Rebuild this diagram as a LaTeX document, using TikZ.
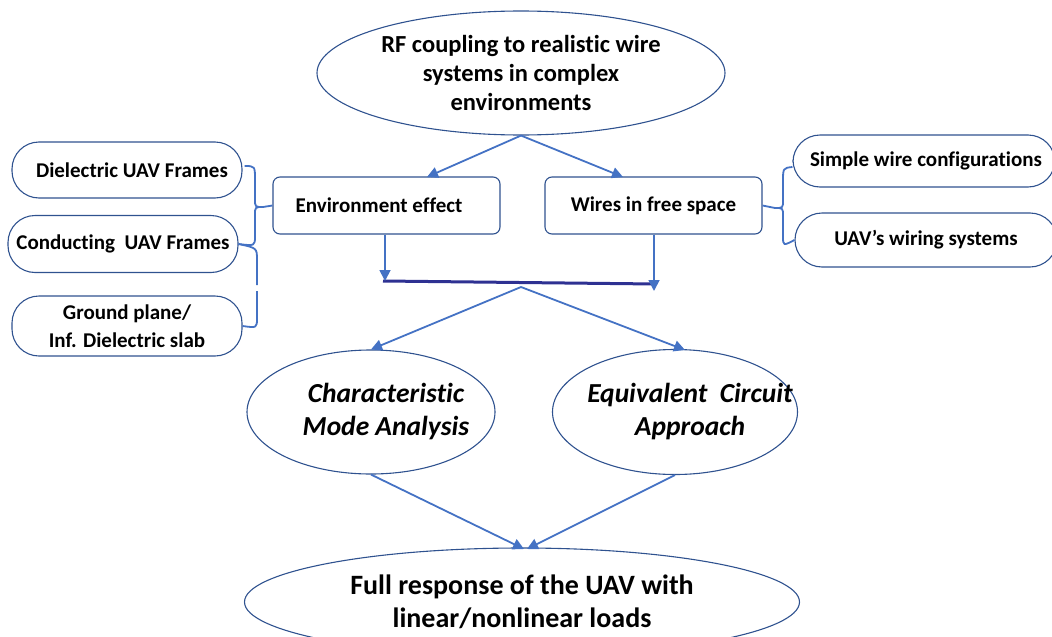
\documentclass[tikz,border=0pt]{standalone}
\usepackage{fontspec}
\setmainfont{Carlito}[Ligatures=NoCommon]
\usetikzlibrary{positioning,shapes,arrows.meta}
\definecolor{myblue}{RGB}{47,82,143}
\definecolor{arrowblue}{RGB}{68,114,196}
\definecolor{barblue}{RGB}{46,49,146}

\begin{document}
\begin{tikzpicture}[x=1pt,y=-1pt,
  oval/.style={ellipse,draw=myblue,line width=1.1pt,inner xsep=-45pt,inner ysep=-20pt,align=center},
  pill/.style={draw=myblue,line width=1.1pt,rounded corners=27pt,inner sep=0pt,
    minimum width=230pt,align=center,font=\bfseries\fontsize{21}{28}\selectfont},
  bbox/.style={draw=myblue,line width=1.1pt,rounded corners=7pt,inner sep=0pt,
    minimum height=57pt,font=\bfseries\fontsize{21}{25}\selectfont},
  link/.style={arrowblue,line width=1.8pt,-{Triangle[length=11pt,width=11pt]}},
  brace/.style={arrowblue,line width=1.8pt,line join=round}
]
\useasboundingbox (0,0) rectangle (1052,637);
\clip (0,0) rectangle (1052,637);

% the top goal
\node[oval,minimum width=408pt,minimum height=124pt,
  font=\bfseries\fontsize{24.5}{29}\selectfont] (rf) at (521,73)
  {RF coupling to realistic wire\\systems in complex\\environments};

% the two branches
\node[bbox,minimum width=227pt] (env) at (386.5,205.5) {Environment effect\kern15pt};
\node[bbox,minimum width=217pt] (wires) at (653.5,205.5) {Wires in free space};

% the environments
\node[pill,minimum height=56pt] (diel) at (127,170) {\hspace{10pt}Dielectric UAV Frames};
\node[pill,minimum height=57pt] (cond) at (123,244) {Conducting\ \ UAV Frames};
\node[pill,minimum height=60pt] (ground) at (127,326) {Ground plane/\\Inf. Dielectric slab};

% the wire systems
\node[pill,minimum width=262pt,minimum height=52pt] (simple) at (924,161) {\hspace{4pt}Simple wire configurations};
\node[pill,minimum width=262pt,minimum height=54pt] (uavw) at (926,240) {UAV’s wiring systems};

% the two methods
\node[oval,minimum width=248pt,minimum height=124pt,
  font=\bfseries\itshape\fontsize{27.5}{33}\selectfont] (cma) at (371,412)
  {\hspace*{30pt}Characteristic\\\hspace*{30pt}Mode Analysis};
\node[oval,minimum width=245pt,minimum height=125pt,
  font=\bfseries\itshape\fontsize{27.5}{33}\selectfont] (eca) at (675,412)
  {\hspace*{30pt}Equivalent\ \ Circuit\\\hspace*{30pt}Approach};

% the result
\node[oval,minimum width=555pt,minimum height=108pt,
  font=\bfseries\fontsize{28}{33}\selectfont] (full) at (522,602)
  {Full response of the UAV with\\linear/nonlinear loads};

% the joining bar
\coordinate (barl) at (383,281);
\coordinate (barr) at (656,284);
\coordinate (barm) at (521,287);
\draw[barblue,line width=3pt] (barl) -- (barr);

% the edges
\draw[link] (rf.south) -- (427,177);
\draw[link] (rf.south) -- (623,177);
\draw[link] (env.south -| 385,0) -- (barl -| 385,0);
\draw[link] (wires.south -| 654,0) -- (654,291);
\draw[link] (barm) -- (cma.north);
\draw[link] (barm) -- (685,350);
\draw[link] (cma.south) -- (524,549);
\draw[link] (eca.south) -- (527,549);

% the braces
\draw[brace] (diel.east) ++(2,-4) .. controls (255,166) .. (255,180) -- (255,199)
  .. controls (255,207) .. (263,207) -- (env.west);
\draw[brace] (263,207) .. controls (255,207) .. (255,215) -- (255,236)
  .. controls (255,246) .. (cond.east);
\draw[brace] (cond.east) .. controls (257,248) .. (257,260) -- (257,285);
\draw[brace] (257,291) -- (257,318) .. controls (257,328) .. (ground.east);
\draw[brace] (simple.west) ++(0,6) .. controls (783,168) .. (783,182) -- (783,200)
  .. controls (783,208) .. (775,208) -- (wires.east);
\draw[brace] (775,208) .. controls (783,208) .. (783,216) -- (783,236)
  .. controls (783,246) .. (uavw.west);
\end{tikzpicture}
\end{document}
